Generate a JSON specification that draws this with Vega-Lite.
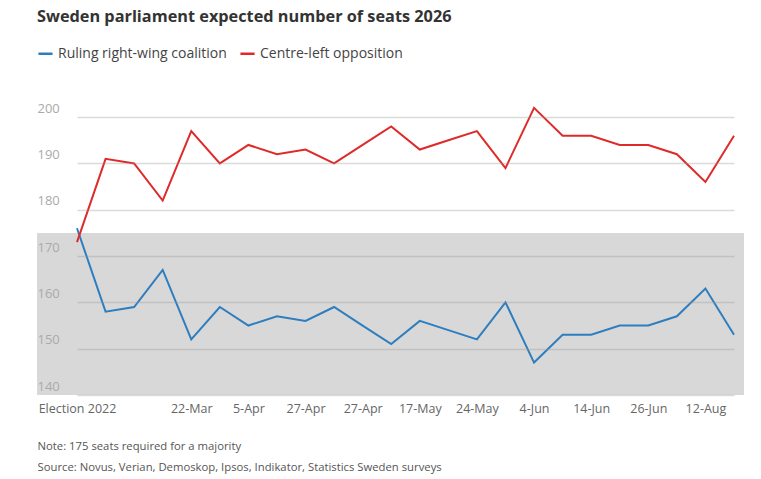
{
  "$schema": "https://vega.github.io/schema/vega-lite/v6.json",
  "width": 707,
  "height": 301,
  "autosize": "none",
  "padding": {"left": 37, "top": 94, "right": 17, "bottom": 84},
  "background": "white",
  "title": {
    "text": "Sweden parliament expected number of seats 2026",
    "anchor": "start",
    "frame": "group",
    "offset": 20,
    "font": "Open Sans",
    "fontSize": 16.3,
    "fontWeight": "bold",
    "color": "#333333"
  },
  "config": {"view": {"stroke": null}, "font": "Open Sans"},
  "datasets": {
    "majority": [{"low": 140, "high": 175}],
    "seats": [
      {"poll": "Election 2022", "bloc": "Ruling right-wing coalition", "seats": 176},
      {"poll": "poll 1", "bloc": "Ruling right-wing coalition", "seats": 158},
      {"poll": "poll 2", "bloc": "Ruling right-wing coalition", "seats": 159},
      {"poll": "poll 3", "bloc": "Ruling right-wing coalition", "seats": 167},
      {"poll": "22-Mar", "bloc": "Ruling right-wing coalition", "seats": 152},
      {"poll": "poll 5", "bloc": "Ruling right-wing coalition", "seats": 159},
      {"poll": "5-Apr", "bloc": "Ruling right-wing coalition", "seats": 155},
      {"poll": "poll 7", "bloc": "Ruling right-wing coalition", "seats": 157},
      {"poll": "27-Apr", "bloc": "Ruling right-wing coalition", "seats": 156},
      {"poll": "poll 9", "bloc": "Ruling right-wing coalition", "seats": 159},
      {"poll": "27-Apr ", "bloc": "Ruling right-wing coalition", "seats": 155},
      {"poll": "poll 11", "bloc": "Ruling right-wing coalition", "seats": 151},
      {"poll": "17-May", "bloc": "Ruling right-wing coalition", "seats": 156},
      {"poll": "poll 13", "bloc": "Ruling right-wing coalition", "seats": 154},
      {"poll": "24-May", "bloc": "Ruling right-wing coalition", "seats": 152},
      {"poll": "poll 15", "bloc": "Ruling right-wing coalition", "seats": 160},
      {"poll": "4-Jun", "bloc": "Ruling right-wing coalition", "seats": 147},
      {"poll": "poll 17", "bloc": "Ruling right-wing coalition", "seats": 153},
      {"poll": "14-Jun", "bloc": "Ruling right-wing coalition", "seats": 153},
      {"poll": "poll 19", "bloc": "Ruling right-wing coalition", "seats": 155},
      {"poll": "26-Jun", "bloc": "Ruling right-wing coalition", "seats": 155},
      {"poll": "poll 21", "bloc": "Ruling right-wing coalition", "seats": 157},
      {"poll": "12-Aug", "bloc": "Ruling right-wing coalition", "seats": 163},
      {"poll": "poll 23", "bloc": "Ruling right-wing coalition", "seats": 153},
      {"poll": "Election 2022", "bloc": "Centre-left opposition", "seats": 173},
      {"poll": "poll 1", "bloc": "Centre-left opposition", "seats": 191},
      {"poll": "poll 2", "bloc": "Centre-left opposition", "seats": 190},
      {"poll": "poll 3", "bloc": "Centre-left opposition", "seats": 182},
      {"poll": "22-Mar", "bloc": "Centre-left opposition", "seats": 197},
      {"poll": "poll 5", "bloc": "Centre-left opposition", "seats": 190},
      {"poll": "5-Apr", "bloc": "Centre-left opposition", "seats": 194},
      {"poll": "poll 7", "bloc": "Centre-left opposition", "seats": 192},
      {"poll": "27-Apr", "bloc": "Centre-left opposition", "seats": 193},
      {"poll": "poll 9", "bloc": "Centre-left opposition", "seats": 190},
      {"poll": "27-Apr ", "bloc": "Centre-left opposition", "seats": 194},
      {"poll": "poll 11", "bloc": "Centre-left opposition", "seats": 198},
      {"poll": "17-May", "bloc": "Centre-left opposition", "seats": 193},
      {"poll": "poll 13", "bloc": "Centre-left opposition", "seats": 195},
      {"poll": "24-May", "bloc": "Centre-left opposition", "seats": 197},
      {"poll": "poll 15", "bloc": "Centre-left opposition", "seats": 189},
      {"poll": "4-Jun", "bloc": "Centre-left opposition", "seats": 202},
      {"poll": "poll 17", "bloc": "Centre-left opposition", "seats": 196},
      {"poll": "14-Jun", "bloc": "Centre-left opposition", "seats": 196},
      {"poll": "poll 19", "bloc": "Centre-left opposition", "seats": 194},
      {"poll": "26-Jun", "bloc": "Centre-left opposition", "seats": 194},
      {"poll": "poll 21", "bloc": "Centre-left opposition", "seats": 192},
      {"poll": "12-Aug", "bloc": "Centre-left opposition", "seats": 186},
      {"poll": "poll 23", "bloc": "Centre-left opposition", "seats": 196}
    ]
  },
  "layer": [
    {
      "data": {"name": "majority"},
      "mark": {"type": "rect", "color": "#d8d8d8"},
      "encoding": {
        "y": {"field": "low", "type": "quantitative", "title": null},
        "y2": {"field": "high"}
      }
    },
    {
      "data": {"name": "seats"},
      "mark": {"type": "line", "strokeWidth": 2},
      "encoding": {
        "x": {
          "field": "poll",
          "type": "ordinal",
          "sort": null,
          "scale": {"type": "point", "range": [40, 697], "padding": 0},
          "axis": {
            "values": ["Election 2022", "22-Mar", "5-Apr", "27-Apr", "27-Apr ", "17-May", "24-May", "4-Jun", "14-Jun", "26-Jun", "12-Aug"],
            "labelAngle": 0,
            "ticks": false,
            "domain": false,
            "grid": false,
            "labelColor": "#666666",
            "labelFontSize": 12.5,
            "labelPadding": 7,
            "title": ["Note: 175 seats required for a majority", "Source: Novus, Verian, Demoskop, Ipsos, Indikator, Statistics Sweden surveys"],
            "titleAnchor": "start",
            "titleAlign": "left",
            "titleBaseline": "alphabetic",
            "titleX": 0,
            "titleY": 54,
            "titleLineHeight": 21.5,
            "titleFontSize": 11.3,
            "titleFontWeight": "normal",
            "titleColor": "#555555"
          }
        },
        "y": {
          "field": "seats",
          "type": "quantitative",
          "title": null,
          "scale": {"domain": [140, 205], "nice": false, "zero": false},
          "axis": {
            "values": [140, 150, 160, 170, 180, 190, 200],
            "zindex": 1,
            "ticks": false,
            "domain": false,
            "grid": true,
            "gridColor": "#999999",
            "gridOpacity": 0.35,
            "gridWidth": 1.5,
            "labelAlign": "left",
            "labelBaseline": "bottom",
            "labelPadding": 0,
            "labelOffset": -2,
            "labelFontSize": 13,
            "labelColor": "#aaaaaa"
          }
        },
        "color": {
          "field": "bloc",
          "type": "nominal",
          "sort": ["Ruling right-wing coalition", "Centre-left opposition"],
          "scale": {"domain": ["Ruling right-wing coalition", "Centre-left opposition"], "range": ["#2e7ebf", "#df2a2a"]},
          "legend": {
            "orient": "none",
            "legendX": 0,
            "legendY": -49,
            "direction": "horizontal",
            "title": null,
            "symbolType": "stroke",
            "symbolStrokeWidth": 2.5,
            "symbolSize": 200,
            "labelFontSize": 14,
            "labelLimit": 400,
            "labelColor": "#444444",
            "labelOffset": 4,
            "columnPadding": 8
          }
        }
      }
    }
  ]
}
